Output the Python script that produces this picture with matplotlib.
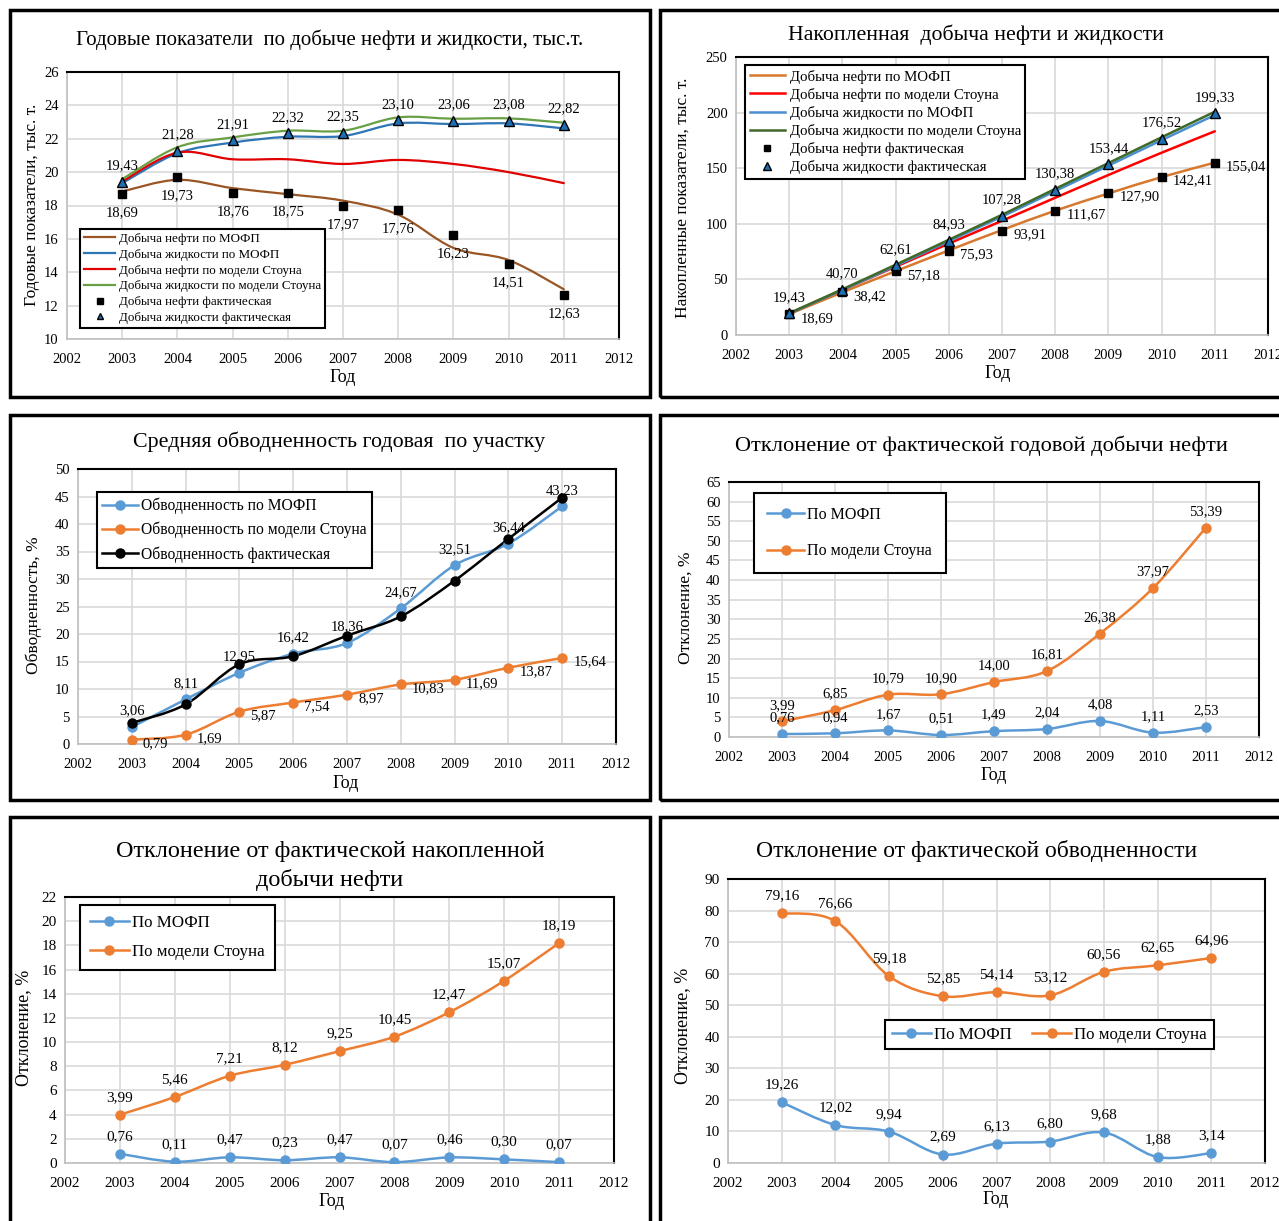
import matplotlib
matplotlib.use('Agg')
import matplotlib.pyplot as plt
import numpy as np
from matplotlib.path import Path
from matplotlib.patches import PathPatch, Rectangle
from matplotlib.lines import Line2D

plt.rcParams['font.family'] = ['Liberation Serif', 'DejaVu Serif']

W, H = 1279, 1221

years = [2003, 2004, 2005, 2006, 2007, 2008, 2009, 2010, 2011]

# 1. годовые показатели, тыс.т.
oil_fact = [18.69, 19.73, 18.76, 18.75, 17.97, 17.76, 16.23, 14.51, 12.63]
liq_fact = [19.43, 21.28, 21.91, 22.32, 22.35, 23.10, 23.06, 23.08, 22.82]
oil_mofp = [18.84, 19.54, 19.04, 18.68, 18.29, 17.45, 15.46, 14.73, 12.98]
liq_mofp = [19.34, 21.13, 21.77, 22.12, 22.16, 22.92, 22.88, 22.92, 22.62]
oil_stone = [19.44, 21.17, 20.77, 20.77, 20.49, 20.73, 20.49, 20.00, 19.34]
liq_stone = [19.58, 21.49, 22.08, 22.48, 22.48, 23.28, 23.20, 23.22, 22.96]

# 2. накопленная добыча
cum_oil_fact = [18.69, 38.42, 57.18, 75.93, 93.91, 111.67, 127.90, 142.41, 155.04]
cum_liq_fact = [19.43, 40.70, 62.61, 84.93, 107.28, 130.38, 153.44, 176.52, 199.33]
cum_oil_mofp = [18.8, 38.4, 57.4, 76.1, 94.4, 111.8, 127.3, 142.0, 155.0]
cum_oil_stone = [19.4, 40.6, 61.4, 82.2, 102.7, 123.4, 143.9, 163.9, 183.2]
cum_liq_mofp = [19.3, 40.5, 62.2, 84.4, 106.5, 129.4, 152.3, 175.2, 197.8]
cum_liq_stone = [19.6, 41.1, 63.2, 85.6, 108.1, 131.4, 154.6, 177.8, 200.8]

# 3. обводненность, %
wc_mofp = [3.06, 8.11, 12.95, 16.42, 18.36, 24.67, 32.51, 36.44, 43.23]
wc_stone = [0.79, 1.69, 5.87, 7.54, 8.97, 10.83, 11.69, 13.87, 15.64]
wc_fact = [3.83, 7.2, 14.5, 15.96, 19.7, 23.2, 29.7, 37.3, 44.8]

# 4. отклонение от годовой добычи нефти
dev_oil_mofp = [0.76, 0.94, 1.67, 0.51, 1.49, 2.04, 4.08, 1.11, 2.53]
dev_oil_stone = [3.99, 6.85, 10.79, 10.90, 14.00, 16.81, 26.38, 37.97, 53.39]

# 5. отклонение от накопленной добычи
dev_cum_mofp = [0.76, 0.11, 0.47, 0.23, 0.47, 0.07, 0.46, 0.30, 0.07]
dev_cum_stone = [3.99, 5.46, 7.21, 8.12, 9.25, 10.45, 12.47, 15.07, 18.19]

# 6. отклонение от обводненности
dev_wc_mofp = [19.26, 12.02, 9.94, 2.69, 6.13, 6.80, 9.68, 1.88, 3.14]
dev_wc_stone = [79.16, 76.66, 59.18, 52.85, 54.14, 53.12, 60.56, 62.65, 64.96]

BLUE = '#5b9bd5'
ORANGE = '#ed7d31'


def fx(x):
    return x / W


def fy(y):
    return 1 - y / H


def make_ax(fig, x0, x1, y0, y1):
    return fig.add_axes([fx(x0), fy(y1), (x1 - x0) / W, (y1 - y0) / H])


def setup(ax, ymin, ymax, step, fs=10.5):
    ax.set_xlim(2002, 2012)
    ax.set_xticks(range(2002, 2013))
    ax.set_ylim(ymin, ymax)
    ax.set_yticks(np.arange(ymin, ymax + 0.01, step))
    ax.grid(color='#d9d9d9', lw=1.2)
    ax.set_axisbelow(True)
    ax.tick_params(length=0, labelsize=fs)
    ax.tick_params(axis='x', pad=10)
    ax.tick_params(axis='y', pad=6)
    for s in ['top', 'right']:
        ax.spines[s].set_color('black')
        ax.spines[s].set_linewidth(1.5)
    for s in ['left', 'bottom']:
        ax.spines[s].set_color('#bfbfbf')
        ax.spines[s].set_linewidth(1.2)


def smooth(ax, x, y, color, lw, zorder=3):
    # сглаженная линия как в Excel (кривые Безье через точки)
    x = np.asarray(x, float)
    y = np.asarray(y, float)
    px = np.concatenate([[x[0]], x, [x[-1]]])
    py = np.concatenate([[y[0]], y, [y[-1]]])
    verts = [(x[0], y[0])]
    codes = [Path.MOVETO]
    for i in range(len(x) - 1):
        c1 = (x[i] + (px[i + 2] - px[i]) / 6, y[i] + (py[i + 2] - py[i]) / 6)
        c2 = (x[i + 1] - (px[i + 3] - px[i + 1]) / 6, y[i + 1] - (py[i + 3] - py[i + 1]) / 6)
        verts += [c1, c2, (x[i + 1], y[i + 1])]
        codes += [Path.CURVE4] * 3
    ax.add_patch(PathPatch(Path(verts, codes), fill=False, edgecolor=color, lw=lw,
                           zorder=zorder, capstyle='round', joinstyle='round'))


def labels(ax, x, y, dx, dy, ha='center', va='baseline', fs=10.5):
    for xi, yi in zip(x, y):
        ax.annotate(f'{yi:.2f}'.replace('.', ','), (xi, yi), xytext=(dx, dy),
                    textcoords='offset points', ha=ha, va=va, fontsize=fs, zorder=6)


def frame(fig, x0, y0, x1, y1):
    fig.add_artist(Rectangle((fx(x0), fy(y1)), (x1 - x0) / W, (y1 - y0) / H,
                             transform=fig.transFigure, fill=False, lw=2.5, ec='black'))


def legend(ax, handles, anchor, fs, **kw):
    lg = ax.legend(handles=handles, loc='upper left', bbox_to_anchor=anchor, fontsize=fs,
                   frameon=True, fancybox=False, edgecolor='black', framealpha=1,
                   borderaxespad=0, **kw)
    lg.get_frame().set_linewidth(1.5)
    lg.set_zorder(7)
    return lg


def texts(fig, title, tpos, tfs, ylab, ypos, xpos, afs=12.5):
    fig.text(fx(tpos[0]), fy(tpos[1]), title, ha='center', va='center', fontsize=tfs, linespacing=1.4)
    fig.text(fx(ypos[0]), fy(ypos[1]), ylab, rotation=90, ha='center', va='center', fontsize=afs)
    fig.text(fx(xpos[0]), fy(xpos[1]), 'Год', ha='center', va='center', fontsize=13)


fig = plt.figure(figsize=(W / 100, H / 100), dpi=100)

frame(fig, 10, 10, 650, 397)
frame(fig, 660, 10, 1300, 397)
frame(fig, 10, 415, 650, 800)
frame(fig, 660, 415, 1300, 800)
frame(fig, 10, 817, 650, 1240)
frame(fig, 660, 817, 1300, 1240)

# ---------- 1 ----------
ax = make_ax(fig, 67, 619, 72, 339)
setup(ax, 10, 26, 2)
c_brown, c_blue, c_red, c_green = '#9a5524', '#2e75b6', '#e00000', '#6aa045'
smooth(ax, years, oil_mofp, c_brown, 1.6)
smooth(ax, years, liq_mofp, c_blue, 1.6)
smooth(ax, years, oil_stone, c_red, 1.6)
smooth(ax, years, liq_stone, c_green, 1.6)
ax.plot(years, oil_fact, ls='none', marker='s', ms=5.5, color='black', zorder=5)
ax.plot(years, liq_fact, ls='none', marker='^', ms=7, mfc='#1f6fb5', mec='black', mew=1, zorder=5)
labels(ax, years, liq_fact, 0, 9)
labels(ax, years, oil_fact, 0, -9, va='top')
h = [Line2D([], [], color=c_brown, lw=1.6, label='Добыча нефти по МОФП'),
     Line2D([], [], color=c_blue, lw=1.6, label='Добыча жидкости по МОФП'),
     Line2D([], [], color=c_red, lw=1.6, label='Добыча нефти по модели Стоуна'),
     Line2D([], [], color=c_green, lw=1.6, label='Добыча жидкости по модели Стоуна'),
     Line2D([], [], ls='none', marker='s', ms=4, color='black', label='Добыча нефти фактическая'),
     Line2D([], [], ls='none', marker='^', ms=5, mfc='#1f6fb5', mec='black',
            label='Добыча жидкости фактическая')]
legend(ax, h, (0.0236, 0.412), 9.4, labelspacing=0.28, handlelength=2.4, borderpad=0.3,
       handletextpad=0.3)
texts(fig, 'Годовые показатели  по добыче нефти и жидкости, тыс.т.', (330, 40), 15,
      'Годовые показатели, тыс. т.', (32, 205), (343, 377))

# ---------- 2 ----------
ax = make_ax(fig, 736, 1268, 57, 335)
setup(ax, 0, 250, 50)
c_or2, c_blue2, c_green2 = '#d7782d', '#4a8fd0', '#3f6a28'
smooth(ax, years, cum_oil_mofp, c_or2, 1.8)
smooth(ax, years, cum_oil_stone, 'red', 1.8)
smooth(ax, years, cum_liq_mofp, c_blue2, 1.8)
smooth(ax, years, cum_liq_stone, c_green2, 1.8)
ax.plot(years, cum_oil_fact, ls='none', marker='s', ms=6, color='black', zorder=5)
ax.plot(years, cum_liq_fact, ls='none', marker='^', ms=7.5, mfc='#1f6fb5', mec='black', mew=1, zorder=5)
labels(ax, years, cum_liq_fact, 0, 9)
labels(ax, years, cum_oil_fact, 8, -3, ha='left', va='center')
h = [Line2D([], [], color=c_or2, lw=1.8, label='Добыча нефти по МОФП'),
     Line2D([], [], color='red', lw=1.8, label='Добыча нефти по модели Стоуна'),
     Line2D([], [], color=c_blue2, lw=1.8, label='Добыча жидкости по МОФП'),
     Line2D([], [], color=c_green2, lw=1.8, label='Добыча жидкости по модели Стоуна'),
     Line2D([], [], ls='none', marker='s', ms=4.5, color='black', label='Добыча нефти фактическая'),
     Line2D([], [], ls='none', marker='^', ms=5.5, mfc='#1f6fb5', mec='black',
            label='Добыча жидкости фактическая')]
legend(ax, h, (0.017, 0.971), 10.7, labelspacing=0.28, handlelength=2.4, borderpad=0.3,
       handletextpad=0.3)
texts(fig, 'Накопленная  добыча нефти и жидкости', (976, 35), 15.7,
      'Накопленные показатели, тыс. т.', (683, 198), (998, 374))

# ---------- 3 ----------
ax = make_ax(fig, 78, 616, 469, 744)
setup(ax, 0, 50, 5)
for data, col in [(wc_mofp, BLUE), (wc_stone, ORANGE), (wc_fact, 'black')]:
    smooth(ax, years, data, col, 1.8)
    ax.plot(years, data, ls='none', marker='o', ms=6.5, color=col, zorder=5)
labels(ax, years, wc_mofp, 0, 9)
labels(ax, years, wc_stone, 8, -3, ha='left', va='center')
h = [Line2D([], [], color=BLUE, lw=1.8, marker='o', ms=6.5, label='Обводненность по МОФП'),
     Line2D([], [], color=ORANGE, lw=1.8, marker='o', ms=6.5, label='Обводненность по модели Стоуна'),
     Line2D([], [], color='black', lw=1.8, marker='o', ms=6.5, label='Обводненность фактическая')]
legend(ax, h, (0.035, 0.916), 11.2, labelspacing=0.5, handlelength=2.3, borderpad=0.35,
       handletextpad=0.2)
texts(fig, 'Средняя обводненность годовая  по участку', (339, 442), 15.8,
      'Обводненность, %', (34, 605), (346, 784))

# ---------- 4 ----------
ax = make_ax(fig, 729, 1259, 482, 737)
setup(ax, 0, 65, 5)
for data, col in [(dev_oil_mofp, BLUE), (dev_oil_stone, ORANGE)]:
    smooth(ax, years, data, col, 1.8)
    ax.plot(years, data, ls='none', marker='o', ms=6.5, color=col, zorder=5)
labels(ax, years, dev_oil_mofp, 0, 9)
labels(ax, years, dev_oil_stone, 0, 9)
h = [Line2D([], [], color=BLUE, lw=1.8, marker='o', ms=6.5, label='По МОФП'),
     Line2D([], [], color=ORANGE, lw=1.8, marker='o', ms=6.5, label='По модели Стоуна')]
legend(ax, h, (0.047, 0.957), 11.5, labelspacing=1.3, handlelength=2.3, borderpad=0.85,
       handletextpad=0.2)
texts(fig, 'Отклонение от фактической годовой добычи нефти', (981, 446), 16.1,
      'Отклонение, %', (686, 608), (994, 776))

# ---------- 5 ----------
ax = make_ax(fig, 65, 614, 897, 1163)
setup(ax, 0, 22, 2, fs=11)
for data, col in [(dev_cum_mofp, BLUE), (dev_cum_stone, ORANGE)]:
    smooth(ax, years, data, col, 1.8)
    ax.plot(years, data, ls='none', marker='o', ms=6.5, color=col, zorder=5)
labels(ax, years, dev_cum_mofp, 0, 10, fs=11)
labels(ax, years, dev_cum_stone, 0, 10, fs=11)
h = [Line2D([], [], color=BLUE, lw=1.8, marker='o', ms=6.5, label='По МОФП'),
     Line2D([], [], color=ORANGE, lw=1.8, marker='o', ms=6.5, label='По модели Стоуна')]
legend(ax, h, (0.027, 0.970), 12.2, labelspacing=0.75, handlelength=2.3, borderpad=0.6,
       handletextpad=0.2)
texts(fig, 'Отклонение от фактической накопленной\nдобычи нефти', (330, 866), 17.5,
      'Отклонение, %', (24, 1028), (332, 1201), afs=13)

# ---------- 6 ----------
ax = make_ax(fig, 728, 1265, 879, 1163)
setup(ax, 0, 90, 10, fs=11)
for data, col in [(dev_wc_mofp, BLUE), (dev_wc_stone, ORANGE)]:
    smooth(ax, years, data, col, 1.8)
    ax.plot(years, data, ls='none', marker='o', ms=6.5, color=col, zorder=5)
labels(ax, years, dev_wc_mofp, 0, 10, fs=11)
labels(ax, years, dev_wc_stone, 0, 10, fs=11)
h = [Line2D([], [], color=BLUE, lw=1.8, marker='o', ms=6.5, label='По МОФП'),
     Line2D([], [], color=ORANGE, lw=1.8, marker='o', ms=6.5, label='По модели Стоуна')]
legend(ax, h, (0.292, 0.504), 12.2, ncol=2, handlelength=2.3, borderpad=0.4, columnspacing=1.2,
       handletextpad=0.2)
texts(fig, 'Отклонение от фактической обводненности', (977, 851), 17,
      'Отклонение, %', (683, 1026), (996, 1200), afs=13)

fig.savefig('out.png', dpi=100, facecolor='white')
